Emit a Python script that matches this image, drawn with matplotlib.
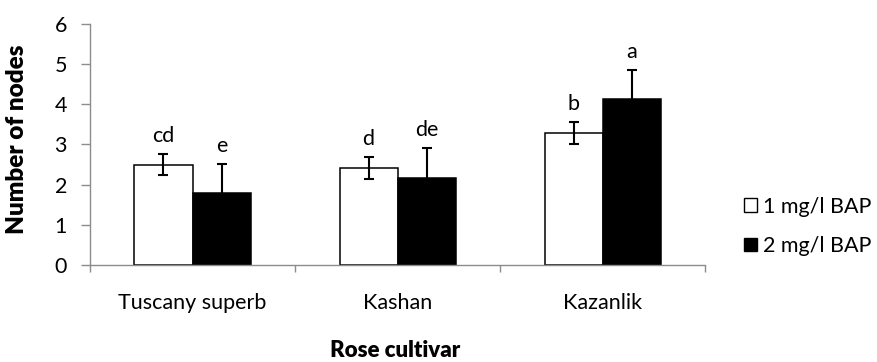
import numpy as np
import matplotlib
matplotlib.use('Agg')
import matplotlib.pyplot as plt
from matplotlib.patches import Patch

plt.rcParams['font.family'] = ['Lato', 'DejaVu Sans']

# Mean node counts per cultivar, with standard errors and significance letters
cultivars = ['Tuscany superb', 'Kashan', 'Kazanlik']
bap1_mean = [2.50, 2.42, 3.28]
bap1_err = [0.26, 0.27, 0.27]
bap2_mean = [1.78, 2.17, 4.13]
bap2_err = [0.73, 0.74, 0.72]
bap1_letters = ['cd', 'd', 'b']
bap2_letters = ['e', 'de', 'a']

AXIS_GREY = '#8c8c8c'
FS = 15.5
width = 0.283

fig = plt.figure(figsize=(8.77, 3.62), dpi=100)
ax = fig.add_axes([0.1026, 0.268, 0.7014, 0.666])

x = np.arange(len(cultivars))
ax.bar(x - width / 2, bap1_mean, width, color='white', edgecolor='black', linewidth=1.1, zorder=2)
ax.bar(x + width / 2, bap2_mean, width, color='black', edgecolor='black', linewidth=1.1, zorder=2)
ax.errorbar(x - width / 2, bap1_mean, yerr=bap1_err, fmt='none', ecolor='black',
            elinewidth=1.5, capsize=3.5, capthick=1.5, zorder=3)
ax.errorbar(x + width / 2, bap2_mean, yerr=bap2_err, fmt='none', ecolor='black',
            elinewidth=1.5, capsize=3.5, capthick=1.5, zorder=3)

for xi, m, e, t in zip(x - width / 2, bap1_mean, bap1_err, bap1_letters):
    ax.text(xi, m + e + 0.2, t, ha='center', va='bottom', fontsize=FS)
for xi, m, e, t in zip(x + width / 2, bap2_mean, bap2_err, bap2_letters):
    ax.text(xi, m + e + 0.2, t, ha='center', va='bottom', fontsize=FS)

ax.set_xlim(-0.5, len(cultivars) - 0.5)
ax.set_ylim(0, 6)
ax.set_yticks(range(0, 7))
ax.tick_params(axis='y', length=6.5, width=1, color=AXIS_GREY, labelsize=FS, pad=10)

ax.set_xticks(x)
ax.set_xticklabels(cultivars)
ax.set_xticks(np.arange(-0.5, len(cultivars)), minor=True)
ax.tick_params(axis='x', which='major', length=0, labelsize=FS, pad=20)
ax.tick_params(axis='x', which='minor', length=5, width=1, color=AXIS_GREY)

for side in ['top', 'right']:
    ax.spines[side].set_visible(False)
for side in ['left', 'bottom']:
    ax.spines[side].set_color(AXIS_GREY)
    ax.spines[side].set_linewidth(1)

ax.set_ylabel('Number of nodes', fontsize=17.5, fontweight='heavy')
ax.yaxis.set_label_coords(-0.101, 0.523)
ax.set_xlabel('Rose cultivar', fontsize=16, fontweight='heavy')
ax.xaxis.set_label_coords(0.496, -0.31)

handles = [Patch(facecolor='white', edgecolor='black', linewidth=1),
           Patch(facecolor='black', edgecolor='black', linewidth=1)]
fig.legend(handles, ['1 mg/l BAP', '2 mg/l BAP'], loc='center left',
           bbox_to_anchor=(0.848, 0.375), frameon=False, fontsize=FS,
           handlelength=0.6, handleheight=0.6, handletextpad=0.3, labelspacing=0.9,
           borderpad=0, borderaxespad=0)

fig.savefig('out.png', dpi=100)
